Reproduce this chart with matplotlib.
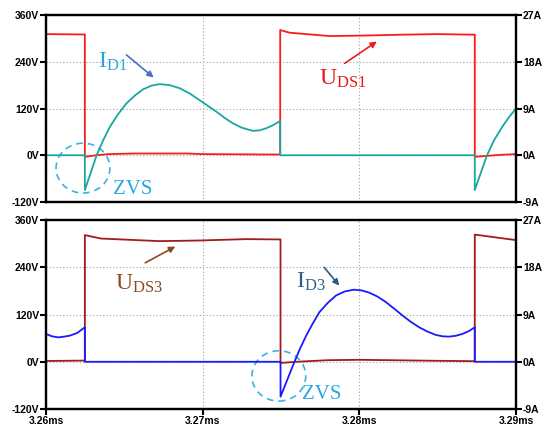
import matplotlib
matplotlib.use("Agg")
import matplotlib.pyplot as plt
from matplotlib.patches import Ellipse
from matplotlib.ticker import FuncFormatter

plt.rcParams['mathtext.fontset'] = 'custom'
plt.rcParams['mathtext.rm'] = 'Liberation Serif'

# ---- upper panel: switch 1 ----
t_uds1 = [3.26, 3.26248, 3.26248, 3.2632, 3.2640, 3.2656, 3.2690, 3.2700, 3.2740, 3.27495,
          3.27495, 3.27554, 3.27809, 3.2800, 3.28274, 3.2849, 3.28737, 3.28737, 3.2880, 3.2890, 3.29]
uds1 = [311, 310, -4, 0, 3, 4.5, 4.5, 3, 2, 2,
        321.5, 314.6, 306, 307, 309.5, 311, 309.5, -4, -2, 1, 3]

t_id1 = [3.26, 3.26248, 3.26248, 3.26323, 3.26365, 3.26408, 3.2646, 3.26514, 3.26567,
         3.26620, 3.26673, 3.26726, 3.26790, 3.26854, 3.26917, 3.26981, 3.27034, 3.27087,
         3.27140, 3.27193, 3.27250, 3.27320, 3.27363, 3.27406, 3.27450, 3.27495, 3.27495,
         3.28737, 3.28737, 3.28815, 3.28860, 3.28913, 3.28957, 3.29]
id1 = [0, 0, -6.7, 0, 2.9, 5.5, 7.9, 10.0, 11.5,
       12.7, 13.4, 13.7, 13.5, 12.9, 11.9, 10.6, 9.5, 8.4,
       7.2, 6.15, 5.3, 4.7, 4.8, 5.2, 5.8, 6.6, 0,
       0, -6.7, 0, 2.9, 5.5, 7.4, 9.0]

# ---- lower panel: switch 3 ----
t_uds3 = [3.26, 3.26248, 3.26248, 3.2635, 3.26726, 3.2698, 3.27278, 3.27497, 3.27497,
          3.2760, 3.2780, 3.2800, 3.2849, 3.28737, 3.28737, 3.29]
uds3 = [2, 3, 321.7, 313, 306.4, 308, 311.5, 310.7, -3,
        0, 4, 5, 2.5, 1.5, 323, 309]

t_id3 = [3.26, 3.26038, 3.26078, 3.26118, 3.26153, 3.26200, 3.26248, 3.26248, 3.27497, 3.27497,
         3.27586, 3.27623, 3.27661, 3.27703, 3.27745, 3.27798, 3.27852, 3.27908, 3.27964,
         3.28014, 3.28064, 3.28117, 3.28170, 3.28223, 3.28276, 3.28329, 3.28382, 3.28435,
         3.28489, 3.28531, 3.28573, 3.28616, 3.28658, 3.28700, 3.28737, 3.28737, 3.29]
id3 = [5.3, 4.85, 4.65, 4.8, 4.98, 5.5, 6.57, 0, 0, -6.65,
       0, 2.6, 4.98, 7.3, 9.44, 11.2, 12.64, 13.4, 13.73,
       13.6, 13.16, 12.4, 11.36, 10.1, 8.81, 7.6, 6.57, 5.75,
       5.11, 4.85, 4.79, 4.95, 5.30, 5.85, 6.57, 0, 0]

v_ticks = [-120, 0, 120, 240, 360]
i_ticks = [-9, 0, 9, 18, 27]
t_ticks = [3.26, 3.27, 3.28, 3.29]

tick_font = dict(family='Liberation Sans', weight='bold', size=7.5)

fig = plt.figure(figsize=(5.47, 4.30), dpi=100)
ax1 = fig.add_axes([0.0841, 0.5302, 0.8592, 0.4349])
ax2 = fig.add_axes([0.0841, 0.0488, 0.8592, 0.4395])


def style(ax, show_x):
    ax.set_xlim(3.26, 3.29)
    ax.set_ylim(-120, 360)
    ax.set_yticks(v_ticks)
    ax.set_xticks(t_ticks)
    ax.yaxis.set_major_formatter(FuncFormatter(lambda v, p: '%dV' % v))
    ax.xaxis.set_major_formatter(FuncFormatter(lambda v, p: '%.2fms' % v))
    ax.grid(True, color='#a0a0a0', linestyle=(0, (1, 2)), linewidth=0.8)
    for s in ax.spines.values():
        s.set_linewidth(1.6)
    ax.tick_params(axis='both', length=4, width=1.5, pad=1)
    for lab in ax.get_yticklabels() + ax.get_xticklabels():
        lab.set_fontproperties(tick_font)
    if not show_x:
        ax.tick_params(axis='x', length=0, labelbottom=False)
    tw = ax.twinx()
    tw.set_ylim(-9, 27)
    tw.set_yticks(i_ticks)
    tw.yaxis.set_major_formatter(FuncFormatter(lambda v, p: '%dA' % v))
    tw.tick_params(axis='y', length=4, width=1.5, pad=1)
    for lab in tw.get_yticklabels():
        lab.set_fontproperties(tick_font)
    for s in tw.spines.values():
        s.set_linewidth(1.6)
    return tw


tw1 = style(ax1, False)
tw2 = style(ax2, True)

ax1.plot(t_uds1, uds1, color='#ff1a1a', lw=1.3)
tw1.plot(t_id1, id1, color='#17a89e', lw=1.3)
ax2.plot(t_uds3, uds3, color='#a01c1c', lw=1.3)
tw2.plot(t_id3, id3, color='#1a1aff', lw=1.3)

lab_font = 17
# upper annotations
ax1.annotate('', xy=(3.26701, 195), xytext=(3.26500, 262),
             arrowprops=dict(arrowstyle='-|>', color='#4a6fc8', lw=1.2, mutation_scale=9))
ax1.text(3.2633, 241, r'$\mathrm{I_{D1}}$', color='#29a3dc', fontsize=lab_font, ha='left', va='center')
ax1.annotate('', xy=(3.28127, 296), xytext=(3.27892, 232),
             arrowprops=dict(arrowstyle='-|>', color='#ee1c1c', lw=1.2, mutation_scale=9))
ax1.text(3.27745, 198, r'$\mathrm{U_{DS1}}$', color='#e8141c', fontsize=lab_font, ha='left', va='center')
ax1.add_patch(Ellipse((3.26236, -33), 0.00344, 128, fill=False, edgecolor='#3ab0e6',
                      lw=1.2, linestyle=(0, (4, 3)), zorder=5))
ax1.text(3.26427, -89, 'ZVS', color='#29a8e0', fontsize=15, family='Liberation Serif',
         ha='left', va='center')

# lower annotations
ax2.annotate('', xy=(3.26841, 296), xytext=(3.26618, 248),
             arrowprops=dict(arrowstyle='-|>', color='#8c4a20', lw=1.2, mutation_scale=9))
ax2.text(3.26439, 200, r'$\mathrm{U_{DS3}}$', color='#8c4a20', fontsize=lab_font, ha='left', va='center')
ax2.annotate('', xy=(3.27883, 188), xytext=(3.27765, 245),
             arrowprops=dict(arrowstyle='-|>', color='#2a5a80', lw=1.2, mutation_scale=9))
ax2.text(3.27595, 204, r'$\mathrm{I_{D3}}$', color='#2f5f8a', fontsize=lab_font, ha='left', va='center')
ax2.add_patch(Ellipse((3.27486, -36), 0.00344, 128, fill=False, edgecolor='#3ab0e6',
                      lw=1.2, linestyle=(0, (4, 3)), zorder=5))
ax2.text(3.27637, -82, 'ZVS', color='#29a8e0', fontsize=15, family='Liberation Serif',
         ha='left', va='center')

fig.savefig('out.png', dpi=100)
